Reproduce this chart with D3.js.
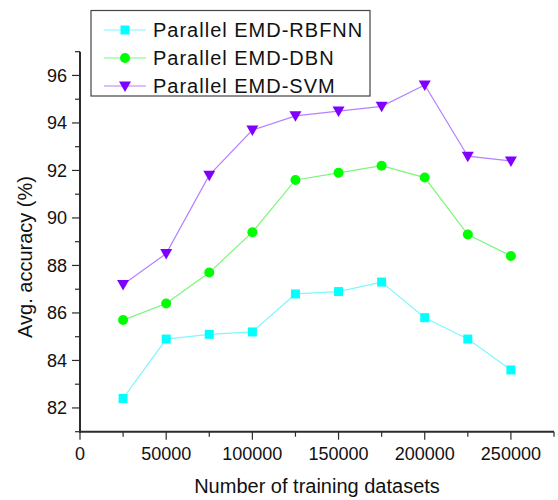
<!DOCTYPE html>
<html>
<head>
<meta charset="utf-8">
<script src="https://cdn.jsdelivr.net/npm/d3@7"></script>
<style>
  body { margin: 0; background: #fff; }
  text { font-family: "Liberation Sans", Arial, sans-serif; fill: #111; }
</style>
</head>
<body>
<div id="chart"></div>
<script>
var svgWidth = 558;
var svgHeight = 500;

// data
var trainSizes = [25000, 50000, 75000, 100000, 125000, 150000, 175000, 200000, 225000, 250000];
var rbfnnAcc = [82.4, 84.9, 85.1, 85.2, 86.8, 86.9, 87.3, 85.8, 84.9, 83.6];
var dbnAcc = [85.7, 86.4, 87.7, 89.4, 91.6, 91.9, 92.2, 91.7, 89.3, 88.4];
var svmAcc = [87.2, 88.5, 91.8, 93.7, 94.3, 94.5, 94.7, 95.6, 92.6, 92.4];
var seriesNames = ["Parallel EMD-RBFNN", "Parallel EMD-DBN", "Parallel EMD-SVM"];
var xTicks = [0, 50000, 100000, 150000, 200000, 250000];
var yTicks = [82, 84, 86, 88, 90, 92, 94, 96];

var series = [
  { name: seriesNames[0], values: rbfnnAcc, color: "#00ffff", line: "#7ff7ff", shape: "square" },
  { name: seriesNames[1], values: dbnAcc, color: "#00ff00", line: "#7cf57c", shape: "circle" },
  { name: seriesNames[2], values: svmAcc, color: "#8000ff", line: "#b580ff", shape: "triangle" }
];

var svg = d3.select("#chart")
  .append("svg")
  .attr("width", svgWidth)
  .attr("height", svgHeight);

var xScale = d3.scaleLinear().domain([0, 275000]).range([80, 554]);
var yScale = d3.scaleLinear().domain([81, 97]).range([431.7, 51.7]);

var axisColor = "#2b2b2b";

// x axis
var xAxis = svg.append("g").attr("transform", "translate(0,431.7)");
xAxis.append("line")
  .attr("x1", xScale.range()[0] - 1).attr("x2", xScale.range()[1])
  .attr("stroke", axisColor).attr("stroke-width", 2);
xAxis.selectAll(".xminor")
  .data(d3.range(0, 275001, 25000))
  .enter().append("line")
  .attr("x1", d => xScale(d)).attr("x2", d => xScale(d))
  .attr("y1", 0).attr("y2", d => d % 50000 === 0 ? 8 : 5)
  .attr("stroke", axisColor).attr("stroke-width", 1.2);
xAxis.selectAll(".xlab")
  .data(xTicks)
  .enter().append("text")
  .attr("x", d => xScale(d)).attr("y", 28)
  .attr("text-anchor", "middle")
  .style("font-size", "18px")
  .text(d => d);

// y axis
var yAxis = svg.append("g").attr("transform", "translate(80,0)");
yAxis.append("line")
  .attr("y1", yScale.range()[0] + 1).attr("y2", yScale.range()[1])
  .attr("stroke", axisColor).attr("stroke-width", 2);
yAxis.selectAll(".yminor")
  .data(d3.range(81, 97.5, 1))
  .enter().append("line")
  .attr("y1", d => yScale(d)).attr("y2", d => yScale(d))
  .attr("x1", 0).attr("x2", d => d % 2 === 0 ? -8 : -5)
  .attr("stroke", axisColor).attr("stroke-width", 1.2);
yAxis.selectAll(".ylab")
  .data(yTicks)
  .enter().append("text")
  .attr("x", -13).attr("y", d => yScale(d) + 6.5)
  .attr("text-anchor", "end")
  .style("font-size", "18px")
  .text(d => d);

// axis titles
svg.append("text")
  .attr("x", 317).attr("y", 493)
  .attr("text-anchor", "middle")
  .style("font-size", "20px")
  .text("Number of training datasets");
svg.append("text")
  .attr("transform", "translate(32,257) rotate(-90)")
  .attr("text-anchor", "middle")
  .style("font-size", "20px")
  .text("Avg. accuracy (%)");

function drawMarker(g, shape, color) {
  if (shape === "square") {
    g.append("rect").attr("x", -4.5).attr("y", -4.5).attr("width", 9).attr("height", 9).attr("fill", color);
  } else if (shape === "circle") {
    g.append("circle").attr("r", 5).attr("fill", color);
  } else {
    g.append("path").attr("d", "M-6,-4.5L6,-4.5L0,6Z").attr("fill", color);
  }
}

var line = d3.line()
  .x((d, i) => xScale(trainSizes[i]))
  .y(d => yScale(d));

series.forEach(function(s) {
  svg.append("path")
    .datum(s.values)
    .attr("d", line)
    .attr("fill", "none")
    .attr("stroke", s.line)
    .attr("stroke-width", 1.2);
  svg.selectAll(".m-" + s.shape)
    .data(s.values)
    .enter().append("g")
    .attr("transform", (d, i) => "translate(" + xScale(trainSizes[i]) + "," + yScale(d) + ")")
    .each(function() { drawMarker(d3.select(this), s.shape, s.color); });
});

// legend
var legend = svg.append("g");
legend.append("rect")
  .attr("x", 91).attr("y", 10.5).attr("width", 279).attr("height", 85.5)
  .attr("fill", "#fff").attr("stroke", "#444").attr("stroke-width", 1.2);
series.forEach(function(s, i) {
  var y = 30 + i * 28;
  legend.append("line")
    .attr("x1", 104).attr("x2", 146).attr("y1", y).attr("y2", y)
    .attr("stroke", s.line).attr("stroke-width", 1.2);
  var mg = legend.append("g").attr("transform", "translate(125," + y + ")");
  drawMarker(mg, s.shape, s.color);
  legend.append("text")
    .attr("x", 153).attr("y", y + 7)
    .style("font-size", "20px")
    .style("letter-spacing", "1px")
    .text(s.name);
});
</script>
</body>
</html>
